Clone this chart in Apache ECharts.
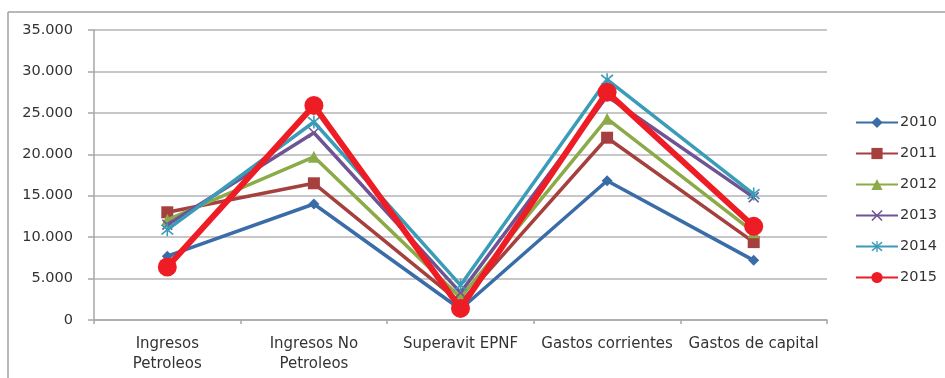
<!DOCTYPE html>
<html>
<head>
<meta charset="utf-8">
<script src="https://cdn.jsdelivr.net/npm/echarts@6/dist/echarts.min.js"></script>
<style>
  html, body { margin: 0; padding: 0; background: #fff; }
  #chart { width: 945px; height: 378px; }
</style>
</head>
<body>
<div id="chart"></div>
<script>
// Categories of the fiscal aggregates (millions)
const categories = [
  'Ingresos\nPetroleos',
  'Ingresos No\nPetroleos',
  'Superavit EPNF',
  'Gastos corrientes',
  'Gastos de capital'
];

const years = ['2010', '2011', '2012', '2013', '2014', '2015'];

const values2010 = [7700, 14000, 1300, 16800, 7200];
const values2011 = [13000, 16500, 2100, 22000, 9400];
const values2012 = [12100, 19700, 2700, 24300, 10600];
const values2013 = [11500, 22600, 3300, 27000, 14800];
const values2014 = [10900, 23900, 4200, 29000, 15200];
const values2015 = [6400, 25900, 1400, 27500, 11300];

const yTicks = { min: 0, max: 35000, interval: 5000 };

const colors = ['#3A6DA8', '#A6403E', '#8AAB47', '#6E5495', '#3A9CB7', '#EE1D25'];

// Custom marker shapes: an "x" cross and an asterisk
const crossPath = 'path://M0,1 L1,0 L5,4 L9,0 L10,1 L6,5 L10,9 L9,10 L5,6 L1,10 L0,9 L4,5 Z';
const starPath = 'path://M0,1 L1,0 L5,4 L9,0 L10,1 L6,5 L10,9 L9,10 L5,6 L1,10 L0,9 L4,5 Z M4.4,-1 L5.6,-1 L5.6,11 L4.4,11 Z';

const seriesData = [values2010, values2011, values2012, values2013, values2014, values2015];
const symbols = ['diamond', 'rect', 'triangle', crossPath, starPath, 'circle'];
const symbolSizes = [11, 12, 12, 11, 13, 19];
const lineWidths = [3.5, 3.5, 3.5, 3.5, 3.5, 6];

function fmtThousands(v) {
  return String(v).replace(/\B(?=(\d{3})+(?!\d))/g, '.');
}

const chart = echarts.init(document.getElementById('chart'), null, { renderer: 'canvas' });

const fontFamily = '"DejaVu Sans", "Noto Sans", sans-serif';
const textColor = '#333333';

chart.setOption({
  animation: false,
  backgroundColor: '#ffffff',
  color: colors,
  grid: { left: 94, right: 118, top: 30, bottom: 58, containLabel: false },
  xAxis: {
    type: 'category',
    data: categories,
    boundaryGap: true,
    axisLine: { show: true, lineStyle: { color: '#a6a6a6', width: 1.5 } },
    axisTick: { show: true, length: 4, lineStyle: { color: '#a6a6a6', width: 1.5 } },
    axisLabel: {
      color: textColor,
      fontSize: 15,
      fontFamily: fontFamily,
      margin: 14,
      lineHeight: 20,
      interval: 0
    }
  },
  yAxis: {
    type: 'value',
    min: yTicks.min,
    max: yTicks.max,
    interval: yTicks.interval,
    axisLine: { show: true, lineStyle: { color: '#a6a6a6', width: 1.5 } },
    axisTick: { show: true, length: 6, lineStyle: { color: '#a6a6a6', width: 1.5 } },
    splitLine: { show: true, lineStyle: { color: '#b4b4b4', width: 1.5 } },
    axisLabel: {
      color: textColor,
      fontSize: 14.5,
      fontFamily: fontFamily,
      margin: 21,
      formatter: fmtThousands
    }
  },
  legend: {
    orient: 'vertical',
    left: 855,
    top: 115,
    padding: 0,
    itemWidth: 42,
    itemHeight: 14,
    itemGap: 16,
    data: years,
    textStyle: { color: textColor, fontSize: 14.5, fontFamily: fontFamily, padding: [0, 0, 0, -3] }
  },
  graphic: [
    { type: 'line', shape: { x1: 8, y1: 12, x2: 945, y2: 12 }, style: { stroke: '#a0a0a0', lineWidth: 1.5 } },
    { type: 'line', shape: { x1: 8, y1: 12, x2: 8, y2: 378 }, style: { stroke: '#a0a0a0', lineWidth: 1.5 } }
  ],
  series: years.map((y, i) => ({
    name: y,
    type: 'line',
    data: seriesData[i],
    symbol: symbols[i],
    symbolSize: symbolSizes[i],
    showAllSymbol: true,
    lineStyle: { color: colors[i], width: lineWidths[i] },
    itemStyle: { color: colors[i] },
    z: 2 + i
  }))
});
</script>
</body>
</html>
